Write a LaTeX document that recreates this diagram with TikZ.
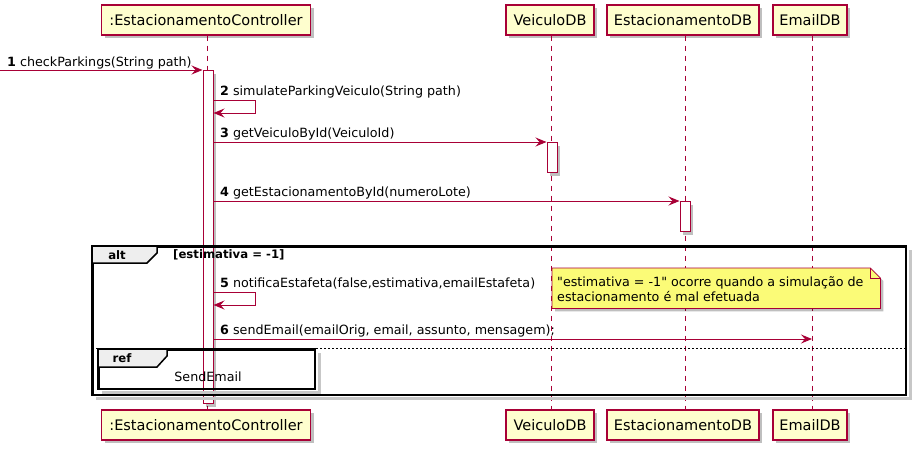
\documentclass[tikz,border=0pt]{standalone}
\usepackage{fontspec}
\setmainfont[Ligatures=TeXOff]{DejaVu Sans}
\usetikzlibrary{arrows.meta,shadows,positioning}

\definecolor{umlred}{HTML}{A80036}
\definecolor{umlbox}{HTML}{FEFECE}
\definecolor{umlnote}{HTML}{FBFB77}
\definecolor{umltab}{HTML}{EEEEEE}

\tikzset{
  shade/.style={drop shadow={shadow xshift=3pt, shadow yshift=-3pt, opacity=0.25, fill=black}},
  partbox/.style={draw=umlred, fill=umlbox, line width=1.1pt, minimum height=30pt,
    inner xsep=6pt, inner ysep=0pt, font=\fontsize{14.5}{16}\selectfont, shade},
  actbox/.style={draw=umlred, fill=white, line width=1pt, minimum width=10pt,
    inner sep=0pt, anchor=north, shade},
  life/.style={umlred, line width=0.8pt, dash pattern=on 5pt off 5pt},
  msg/.style={umlred, line width=1pt, -{Stealth[length=11pt, width=9pt, inset=4pt]}},
  msgtxt/.style={anchor=base west, inner sep=0pt, font=\fontsize{12.7}{15}\selectfont},
  grp/.style={draw=black, line width=1.5pt, anchor=north west, inner sep=0pt},
  grpshade/.style={black!22, line width=3pt},
  grptab/.style={draw=black, line width=1.5pt, fill=umltab},
  grptxt/.style={inner sep=0pt, font=\fontsize{11.7}{13}\selectfont\bfseries},
}

\begin{document}
\begin{tikzpicture}[x=1pt, y=-1pt]
  \useasboundingbox (0,0) rectangle (917,453);

  % participants
  \node[partbox, minimum width=209pt] (ctrlT) at (206,20) {:EstacionamentoController};
  \node[partbox, minimum width=88pt] (veicT) at (550,20) {VeiculoDB};
  \node[partbox, minimum width=152pt] (estT) at (683,20) {EstacionamentoDB};
  \node[partbox, minimum width=74pt] (mailT) at (810,20) {EmailDB};

  \node[partbox, minimum width=209pt] (ctrlB) at (206,425) {:EstacionamentoController};
  \node[partbox, minimum width=88pt] (veicB) at (550,425) {VeiculoDB};
  \node[partbox, minimum width=152pt] (estB) at (683,425) {EstacionamentoDB};
  \node[partbox, minimum width=74pt] (mailB) at (810,425) {EmailDB};

  % lifelines
  \draw[life] ([xshift=1pt]ctrlT.south) -- ([xshift=1pt]ctrlB.north);
  \draw[life] ([xshift=1pt]veicT.south) -- ([xshift=1pt]veicB.north);
  \draw[life] ([xshift=2pt]estT.south) -- ([xshift=2pt]estB.north);
  \draw[life] ([xshift=2pt]mailT.south) -- ([xshift=2pt]mailB.north);

  % activations
  \node[actbox, minimum height=333pt] (actC) at (208,70) {};
  \node[actbox, minimum height=30pt] (actV) at (552,142) {};
  \node[actbox, minimum height=30pt] (actE) at (685,201) {};

  % messages
  \coordinate (entry) at (0,70);
  \draw[msg] (entry) -- (actC.north west);
  \node[msgtxt] (t1) at (7,66) {\textbf{1} checkParkings(String path)};

  \draw[msg] (actC.east |- 0,100) -- ++(42,0) -- ++(0,13) -- (actC.east |- 0,113);
  \node[msgtxt] (t2) at (220,95) {\textbf{2} simulateParkingVeiculo(String path)};

  \draw[msg] (actC.east |- actV.north) -- (actV.north west);
  \node[msgtxt] (t3) at (220,137) {\textbf{3} getVeiculoById(VeiculoId)};

  \draw[msg] (actC.east |- actE.north) -- (actE.north west);
  \node[msgtxt] (t4) at (220,196) {\textbf{4} getEstacionamentoById(numeroLote)};

  % alt group
  \node[grp, minimum width=813pt, minimum height=148pt] (alt) at (92,246) {};
  \draw[grpshade] ([shift={(4pt,-4pt)}]alt.north east) -- ([shift={(4pt,-3pt)}]alt.south east)
    -- ([shift={(4pt,-3pt)}]alt.south west);
  \draw[grp] (alt.north west) rectangle (alt.south east);
  \draw[grptab] (alt.north west) -- ++(65,0) -- ++(0,7) -- ++(-10,10) -- ++(-55,0) -- cycle;
  \node[grptxt] (altlbl) at (117,255) {alt};
  \node[grptxt, anchor=west] (altcond) at (173,255) {[estimativa = -1]};

  \draw[msg] (actC.east |- 0,292) -- ++(42,0) -- ++(0,13) -- (actC.east |- 0,305);
  \node[msgtxt] (t5) at (220,287) {\textbf{5} notificaEstafeta(false,estimativa,emailEstafeta)};

  % note
  \node[anchor=north west, minimum width=328pt, minimum height=40pt, inner sep=0pt] (note) at (552,268) {};
  \filldraw[draw=umlred, fill=umlnote, line width=0.8pt, shade]
    (note.north west) -- ([xshift=-10pt]note.north east) -- ([yshift=-10pt]note.north east)
    -- (note.south east) -- (note.south west) -- cycle;
  \draw[umlred, line width=0.8pt] ([xshift=-10pt]note.north east) -- ([xshift=-10pt, yshift=-10pt]note.north east)
    -- ([yshift=-10pt]note.north east);
  \node[anchor=west, align=left, inner sep=0pt, font=\fontsize{12.7}{15}\selectfont] (notetxt) at (557,289)
    {"estimativa = -1" ocorre quando a simulação de\\estacionamento é mal efetuada};

  \coordinate (mailpt) at ([xshift=2pt]mailT.south |- 0,339);
  \draw[msg] (actC.east |- 0,339) -- (mailpt);
  \node[msgtxt] (t6) at (220,334) {\textbf{6} sendEmail(emailOrig, email, assunto, mensagem);};

  \draw[line width=0.8pt, dash pattern=on 2pt off 2pt] (alt.west |- 0,348) -- (alt.east |- 0,348);

  % ref
  \node[grp, minimum width=216pt, minimum height=39pt] (ref) at (98,349) {};
  \draw[grpshade] ([shift={(4pt,-4pt)}]ref.north east) -- ([shift={(4pt,-3pt)}]ref.south east)
    -- ([shift={(4pt,-3pt)}]ref.south west);
  \draw[grp] (ref.north west) rectangle (ref.south east);
  \draw[grptab] (ref.north west) -- ++(69,0) -- ++(0,7) -- ++(-10,11) -- ++(-59,0) -- cycle;
  \node[grptxt] (reflbl) at (122,358) {ref};
  \node[inner sep=0pt, font=\fontsize{12.7}{15}\selectfont] (reftxt) at (208,377) {SendEmail};
\end{tikzpicture}
\end{document}
